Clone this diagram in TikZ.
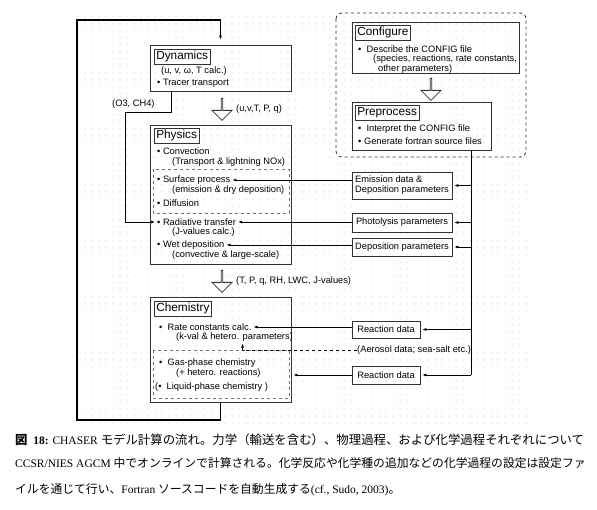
\documentclass[tikz,border=0pt]{standalone}
\usepackage{fontspec}
\setmainfont{Liberation Serif}
\setsansfont{Liberation Sans}
\newfontfamily\jpfont{Noto Sans CJK JP}
\usetikzlibrary{arrows.meta,shapes.arrows}

\begin{document}
\begin{tikzpicture}[x=1pt,y=-1pt,font=\sffamily\fontsize{9.3}{10}\selectfont,>={Latex[length=4pt,width=3pt]}]
    \tikzset{
        mainbox/.style={draw=black!80, line width=0.9pt, minimum width=141pt, minimum height=#1},
        titlebox/.style={draw=black!80, line width=0.6pt, anchor=north west, inner sep=2pt,
            font=\sffamily\fontsize{11.8}{12}\selectfont},
        item/.style={anchor=west, inner sep=0pt},
        databox/.style={draw=black!80, line width=0.7pt, inner sep=2.5pt, align=left},
        hollow/.style={single arrow, draw=black!80, line width=0.8pt, rotate=-90,
            minimum height=22pt, minimum width=20pt, single arrow head extend=5pt, inner sep=0pt},
        partbox/.style={draw=black!55, dashed, line width=0.5pt},
        feed/.style={->, line width=0.7pt, shorten >=2pt},
        captext/.style={anchor=west, inner sep=0pt, font=\rmfamily\fontsize{11.5}{13}\selectfont}
    }

    \useasboundingbox (0,0) rectangle (597,510);

    % dotted background
    \foreach \i in {0,...,64}
        \foreach \j in {0,...,58}
            \fill[black!30] (78+7*\i,17+7*\j) circle (0.5pt);

    % Dynamics
    \node[mainbox=46pt] (dyn) at (220.5,68) {};
    \node[titlebox] (dynt) at (154,49) {Dynamics};
    \node[item] (dyn1) at (161,71) {(u, v, ω, T calc.)};
    \node[item] (dyn2) at (157,83) {\textbullet\ Tracer transport};

    \node[hollow] (ar1) at (222,109) {};
    \node[item] (ar1l) at (236,109) {(u,v,T, P, q)};

    % Physics
    \node[mainbox=139pt] (phys) at (220.5,194.5) {};
    \node[titlebox] (physt) at (154,128) {Physics};
    \draw[partbox] (153,169) rectangle (289,213);
    \node[item] (conv) at (157,151) {\textbullet\ Convection};
    \node[item] (conv2) at (172,162) {(Transport \& lightning NOx)};
    \node[item] (surf) at (157,180) {\textbullet\ Surface process};
    \node[item] (surf2) at (172,190) {(emission \& dry deposition)};
    \node[item] (diff) at (157,203) {\textbullet\ Diffusion};
    \node[item] (rad) at (157,222) {\textbullet\ Radiative transfer};
    \node[item] (rad2) at (172,232) {(J-values calc.)};
    \node[item] (wet) at (157,245) {\textbullet\ Wet deposition};
    \node[item] (wet2) at (172,255) {(convective \& large-scale)};

    \node[hollow] (ar2) at (222,281) {};
    \node[item] (ar2l) at (236,281) {(T, P, q, RH, LWC, J-values)};

    % Chemistry
    \node[mainbox=105pt] (chem) at (220.5,349.5) {};
    \node[titlebox] (chemt) at (154,301) {Chemistry};
    \draw[partbox] (153,350) rectangle (289,398);
    \node[item] (rate) at (159,327) {\textbullet\ \ Rate constants calc.};
    \node[item] (rate2) at (176,337) {(k-val \& hetero. parameters)};
    \node[item] (gas) at (159,363) {\textbullet\ \ Gas-phase chemistry};
    \node[item] (gas2) at (176,373) {(+ hetero. reactions)};
    \node[item] (liq) at (155,387) {(\textbullet\ \ Liquid-phase chemistry )};

    % (O3, CH4) from Dynamics to radiation
    \coordinate (o3a) at (171,112);
    \coordinate (o3b) at (125,112);
    \node[item] (o3l) at (112,104) {(O3, CH4)};
    \draw[feed] (dyn.south -| o3a) -- (o3a) -- (o3b) |- (rad.west);

    % time loop
    \coordinate (lpb) at (77,420);
    \coordinate (lpt) at (77,20);
    \draw[->, line width=1.3pt, shorten >=5pt] (chem.south) |- (lpb) -- (lpt) -| (dyn.north);

    % Configure / Preprocess
    \draw[partbox, draw=black!80, line width=0.8pt, rounded corners=6pt] (336,13) rectangle (526,157);
    \node[mainbox=51pt, minimum width=167pt] (conf) at (435.5,47.5) {};
    \node[titlebox] (conft) at (355,25) {Configure};
    \node[item] (conf1) at (358,49) {\textbullet\ \ Describe the CONFIG file};
    \node[item] (conf2) at (373,59) {(species, reactions, rate constants,};
    \node[item] (conf3) at (378,69) {other parameters)};

    \node[hollow] (ar3) at (431,89) {};

    \node[mainbox=48pt, minimum width=139pt] (prep) at (421.5,126) {};
    \node[titlebox] (prept) at (355,105) {Preprocess};
    \node[item] (prep1) at (358,129) {\textbullet\ \ Interpret the CONFIG file};
    \node[item] (prep2) at (358,141) {\textbullet\ Generate fortran source files};

    % input data
    \node[databox, minimum width=100pt, minimum height=27pt] (emis) at (402,185.5) {Emission data \&\\Deposition parameters};
    \node[databox, minimum width=100pt, minimum height=19pt] (phot) at (402,222.5) {Photolysis parameters};
    \node[databox, minimum width=100pt, minimum height=18pt] (depo) at (402,247) {Deposition parameters};
    \node[databox, minimum width=68pt, minimum height=17pt] (reac1) at (386,329.5) {Reaction data};
    \node[item] (aero) at (357,350) {(Aerosol data; sea-salt etc.)};
    \node[databox, minimum width=68pt, minimum height=18pt] (reac2) at (386,375) {Reaction data};

    \coordinate (tk) at (471,0);
    \draw[line width=0.7pt] (prep.south -| tk) -- (reac2 -| tk);
    \draw[feed] (emis -| tk) -- (emis.east);
    \draw[feed] (phot -| tk) -- (phot.east);
    \draw[feed] (depo -| tk) -- (depo.east);
    \draw[feed] (reac1 -| tk) -- (reac1.east);
    \draw[feed] (reac2 -| tk) -- (reac2.east);

    \draw[feed] (emis.west |- surf) -- (surf.east);
    \draw[feed] (phot.west |- rad) -- (rad.east);
    \draw[feed] (depo.west |- wet) -- (wet.east);
    \draw[feed] (reac1.west |- rate) -- (rate.east);
    \draw[feed, dashed] (aero.west) -| ([xshift=8pt] rate2.south);
    \draw[feed] (reac2.west) -- (reac2.west -| chem.east);

    % caption
    \node[captext] (cap1) at (15,440) {{\bfseries\jpfont\fontsize{12.4}{13}\selectfont 図}\ \ \textbf{18:} CHASER {\jpfont\fontsize{12.4}{13}\selectfont モデル計算の流れ。力学（輸送を含む）、物理過程、および化学過程それぞれについて}};
    \node[captext] (cap2) at (15,463) {CCSR/NIES AGCM {\jpfont\fontsize{11.8}{13}\selectfont 中でオンラインで計算される。化学反応や化学種の追加などの化学過程の設定は設定ファ}};
    \node[captext] (cap3) at (15,490) {{\jpfont\fontsize{11.8}{13}\selectfont イルを通じて行い、}Fortran {\jpfont\fontsize{11.8}{13}\selectfont ソースコードを自動生成する}(cf., Sudo, 2003){\jpfont\fontsize{11.8}{13}\selectfont 。}};
\end{tikzpicture}
\end{document}
